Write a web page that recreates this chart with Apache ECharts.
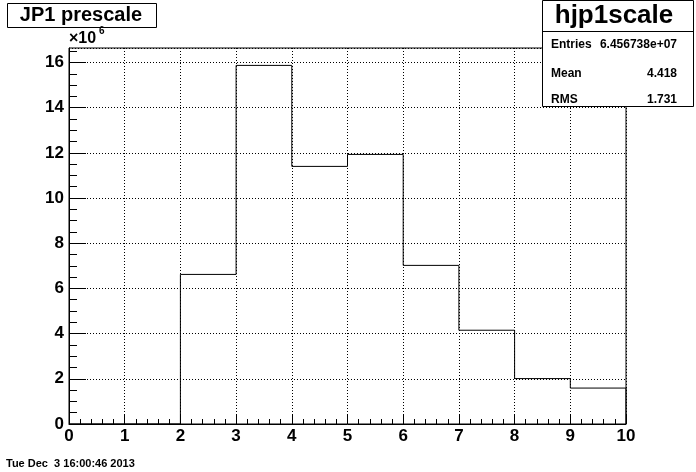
<!DOCTYPE html>
<html>
<head>
<meta charset="utf-8">
<script src="https://cdn.jsdelivr.net/npm/echarts@6/dist/echarts.min.js"></script>
<style>
html,body{margin:0;padding:0;background:#fff;}
#chart{width:696px;height:472px;}
</style>
</head>
<body>
<div id="chart"></div>
<script>
// ---- data (counts in units of 10^6) ----
var binEdges = [0, 1, 2, 3, 4, 5, 6, 7, 8, 9, 10];
var binCounts = [0, 0, 6.62, 15.87, 11.40, 11.93, 7.02, 4.15, 2.01, 1.59];
var yMax = 16.64;
var titleText = 'JP1 prescale';
var histName = 'hjp1scale';
var statLabels = ['Entries', 'Mean', 'RMS'];
var statValues = ['6.456738e+07', '4.418', '1.731'];
var dateText = 'Tue Dec  3 16:00:46 2013';
var yMinorTicks = [];
for (var v = 0; v <= 16.5; v += 0.5) { if (v % 2 !== 0) yMinorTicks.push(v); }

var FONT = 'Liberation Sans';
function f(sz) { return 'bold ' + sz + 'px "' + FONT + '", Arial, sans-serif'; }

// step-line points built from the bins
var pts = [];
for (var i = 0; i < binCounts.length; i++) pts.push([binEdges[i], binCounts[i]]);
pts.push([binEdges[binEdges.length - 1], binCounts[binCounts.length - 1]]);
pts.push([binEdges[binEdges.length - 1], 0]);

var chart = echarts.init(document.getElementById('chart'), null, {renderer: 'canvas'});
chart.setOption({
  animation: false,
  backgroundColor: '#fff',
  grid: {left: 69, right: 70, top: 48, bottom: 48, show: true, borderColor: '#000', borderWidth: 1, backgroundColor: '#fff'},
  xAxis: [{
    type: 'value', min: 0, max: 10, interval: 1,
    axisLine: {show: true, onZero: false, lineStyle: {color: '#000', width: 1}},
    axisTick: {show: true, inside: true, length: 10, lineStyle: {color: '#000'}},
    minorTick: {show: true, splitNumber: 5, length: 5, lineStyle: {color: '#000'}},
    axisLabel: {color: '#000', fontFamily: FONT, fontWeight: 'bold', fontSize: 17, margin: 4},
    splitLine: {show: true, lineStyle: {color: '#000', type: [1, 2], width: 1}}
  }],
  yAxis: [{
    type: 'value', min: 0, max: yMax, interval: 2,
    axisLine: {show: true, onZero: false, lineStyle: {color: '#000', width: 1}},
    axisTick: {show: true, inside: true, length: 17, lineStyle: {color: '#000'}},
    axisLabel: {color: '#000', fontFamily: FONT, fontWeight: 'bold', fontSize: 17, margin: 5, showMaxLabel: false},
    splitLine: {show: true, lineStyle: {color: '#000', type: [1, 2], width: 1}}
  }, {
    type: 'value', min: 0, max: yMax, position: 'left',
    axisLine: {show: false},
    axisTick: {show: true, inside: true, length: 8, customValues: yMinorTicks, lineStyle: {color: '#000'}},
    axisLabel: {show: false, customValues: yMinorTicks},
    splitLine: {show: false}
  }],
  series: [{
    type: 'line', step: 'end', data: pts, showSymbol: false, symbol: 'none',
    lineStyle: {color: '#000', width: 1}, clip: false, z: 5
  }],
  graphic: [
    {type: 'rect', shape: {x: 7.5, y: 3.5, width: 149, height: 24}, style: {fill: '#fff', stroke: '#000', lineWidth: 1}, z: 100},
    {type: 'text', x: 81, y: 15.5, style: {text: titleText, font: f(20), fill: '#000', align: 'center', verticalAlign: 'middle'}, z: 101},
    {type: 'text', x: 69, y: 39, style: {text: '\u00d710', font: f(16), fill: '#000', align: 'left', verticalAlign: 'middle'}, z: 101},
    {type: 'text', x: 99, y: 31, style: {text: '6', font: f(10), fill: '#000', align: 'left', verticalAlign: 'middle'}, z: 101},
    {type: 'rect', shape: {x: 542.5, y: 0.5, width: 151, height: 106}, style: {fill: '#fff', stroke: '#000', lineWidth: 1}, z: 100},
    {type: 'line', shape: {x1: 542.5, y1: 31.5, x2: 693.5, y2: 31.5}, style: {stroke: '#000', lineWidth: 1}, z: 101},
    {type: 'text', x: 614, y: 16, style: {text: histName, font: f(26), fill: '#000', align: 'center', verticalAlign: 'middle'}, z: 101},
    {type: 'text', x: 551, y: 45, style: {text: statLabels[0], font: f(12), fill: '#000', align: 'left', verticalAlign: 'middle'}, z: 101},
    {type: 'text', x: 677, y: 45, style: {text: statValues[0], font: f(12), fill: '#000', align: 'right', verticalAlign: 'middle'}, z: 101},
    {type: 'text', x: 551, y: 74, style: {text: statLabels[1], font: f(12), fill: '#000', align: 'left', verticalAlign: 'middle'}, z: 101},
    {type: 'text', x: 677, y: 74, style: {text: statValues[1], font: f(12), fill: '#000', align: 'right', verticalAlign: 'middle'}, z: 101},
    {type: 'text', x: 551, y: 100, style: {text: statLabels[2], font: f(12), fill: '#000', align: 'left', verticalAlign: 'middle'}, z: 101},
    {type: 'text', x: 677, y: 100, style: {text: statValues[2], font: f(12), fill: '#000', align: 'right', verticalAlign: 'middle'}, z: 101},
    {type: 'text', x: 6, y: 464, style: {text: dateText, font: f(11), fill: '#000', align: 'left', verticalAlign: 'middle'}, z: 101}
  ]
});
</script>
</body>
</html>
